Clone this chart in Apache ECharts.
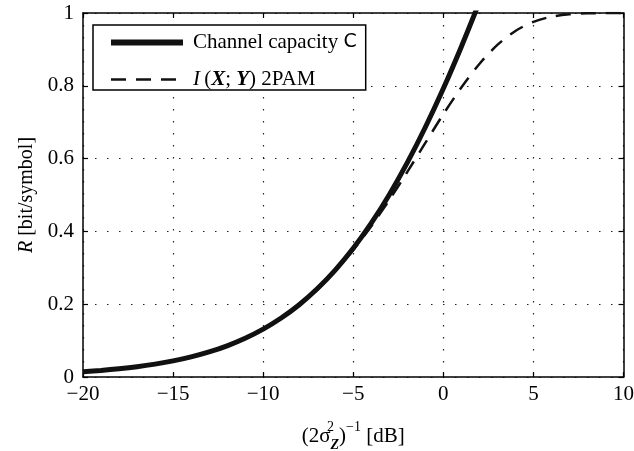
<!DOCTYPE html>
<html>
<head>
<meta charset="utf-8">
<script src="https://cdn.jsdelivr.net/npm/echarts@6/dist/echarts.min.js"></script>
<style>
html,body{margin:0;padding:0;background:#fff;}
#c{width:634px;height:451px;}
</style>
</head>
<body>
<div id="c"></div>
<script>
var xValues = [-20,-19,-18,-17,-16,-15,-14,-13,-12,-11,-10,-9,-8,-7,-6,-5,-4,-3,-2,-1,0,1,2,3,4,5,6,7,8,9,10];
var capacity = [0.0143,0.0179,0.0225,0.0282,0.0354,0.0442,0.0553,0.0689,0.0857,0.1064,0.1315,0.1620,0.1986,0.2423,0.2937,0.3535,0.4225,0.5009,0.5888,0.6861,0.7925,0.9075,1.030,null,null,null,null,null,null,null,null];
var mi2pam = [0.0143,0.0179,0.0225,0.0282,0.0354,0.0442,0.0552,0.0688,0.0855,0.1060,0.1308,0.1608,0.1967,0.2395,0.2913,0.3489,0.4144,0.4862,0.5633,0.6430,0.7222,0.7954,0.8599,0.9123,0.9507,0.9757,0.9899,0.9965,0.9991,0.9998,1.0];
var xTicks = {min:-20, max:10, interval:5};
var yTicks = {min:0, max:1, interval:0.2};
var seriesNames = ['Channel capacity C', 'I(X;Y) 2PAM'];

function pairs(ys){ var out=[]; for (var i=0;i<xValues.length;i++){ if (ys[i]!=null) out.push([xValues[i], ys[i]]); } return out; }

var serif = 'Liberation Serif';
var chart = echarts.init(document.getElementById('c'), null, {renderer:'canvas'});
var gridLine = {show:true, lineStyle:{color:'#222', width:1.2, type:[1.5,10.5]}};
var axisLineS = {show:true, onZero:false, lineStyle:{color:'#000', width:1.5}};
var tickS = {show:true, inside:true, length:5, lineStyle:{color:'#000', width:1.2}};
var solidStyle = {color:'#111', width:5, type:'solid'};
var dashStyle = {color:'#111', width:2.5, type:[15,10]};
var option = {
  animation:false,
  backgroundColor:'#fff',
  grid:{left:83, right:10.5, top:13, bottom:74, containLabel:false, outerBoundsMode:'none'},
  legend:{
    show:true, orient:'vertical', left:93, top:25,
    padding:[7,9,0,15], itemGap:16, itemWidth:72, itemHeight:14,
    borderColor:'#000', borderWidth:1.5, backgroundColor:'#fff',
    itemStyle:{opacity:0},
    data:[
      {name:seriesNames[0], lineStyle:{color:'#111', width:6, type:'solid'}, itemStyle:{opacity:0}},
      {name:seriesNames[1], lineStyle:dashStyle, itemStyle:{opacity:0}}
    ],
    formatter:function(n){
      if (n===seriesNames[0]) return '{m|Channel capacity }{s|C}';
      return '{i|I\u2009}{m|(}{bi|X}{m|; }{bi|Y}{m|) 2PAM}';
    },
    textStyle:{fontFamily:serif, fontSize:21, color:'#000', padding:[0,0,0,5],
      rich:{
        m:{fontFamily:serif, fontSize:21, color:'#000'},
        s:{fontFamily:'DejaVu Sans', fontSize:19, color:'#000'},
        i:{fontFamily:serif, fontSize:21, fontStyle:'italic', color:'#000'},
        bi:{fontFamily:serif, fontSize:21, fontStyle:'italic', fontWeight:'bold', color:'#000'}
      }}
  },
  xAxis:[{
    type:'value', min:xTicks.min, max:xTicks.max, interval:xTicks.interval, position:'bottom',
    axisLine:axisLineS, axisTick:tickS, splitLine:gridLine,
    axisLabel:{margin:7, fontFamily:serif, fontSize:21, color:'#000',
      formatter:function(v){ return String(v).replace('-', '\u2212'); }},
    name:'{m|(2σ}{sup2|2}{sub|Z}{m|)}{sup|\u22121}{m| [dB]}',
    nameLocation:'middle', nameGap:43,
    nameTextStyle:{fontFamily:serif, fontSize:21, color:'#000',
      rich:{
        m:{fontFamily:serif, fontSize:21, color:'#000', lineHeight:32, verticalAlign:'middle'},
        sup2:{fontFamily:serif, fontSize:14, color:'#000', lineHeight:14, verticalAlign:'top', width:0.01, align:'left'},
        sub:{fontFamily:serif, fontSize:14, fontStyle:'italic', fontWeight:'bold', color:'#000', lineHeight:14, verticalAlign:'bottom'},
        sup:{fontFamily:serif, fontSize:14, color:'#000', lineHeight:14, verticalAlign:'top'}
      }}
  },{
    type:'value', min:xTicks.min, max:xTicks.max, interval:xTicks.interval, position:'top',
    axisLine:axisLineS, axisTick:tickS, splitLine:{show:false}, axisLabel:{show:false}
  }],
  yAxis:[{
    type:'value', min:yTicks.min, max:yTicks.max, interval:yTicks.interval, position:'left',
    axisLine:axisLineS, axisTick:tickS, splitLine:gridLine,
    axisLabel:{margin:9, fontFamily:serif, fontSize:21, color:'#000',
      formatter:function(v){ return String(Math.round(v*10)/10); }},
    name:'{i|R} [bit/symbol]', nameLocation:'middle', nameGap:46, nameRotate:90,
    nameTextStyle:{fontFamily:serif, fontSize:20, color:'#000',
      rich:{i:{fontFamily:serif, fontSize:20, fontStyle:'italic', color:'#000'}}}
  },{
    type:'value', min:yTicks.min, max:yTicks.max, interval:yTicks.interval, position:'right',
    axisLine:axisLineS, axisTick:tickS, splitLine:{show:false}, axisLabel:{show:false}
  }],
  series:[{
    name:seriesNames[0], type:'line', data:pairs(capacity), symbol:'none',
    smooth:0.3, clip:true,
    lineStyle:solidStyle, itemStyle:{color:'#111'}, z:3
  },{
    name:seriesNames[1], type:'line', data:pairs(mi2pam), symbol:'none',
    smooth:0.3, clip:true,
    lineStyle:dashStyle, itemStyle:{color:'#111'}, z:4
  }]
};
chart.setOption(option);
</script>
</body>
</html>
